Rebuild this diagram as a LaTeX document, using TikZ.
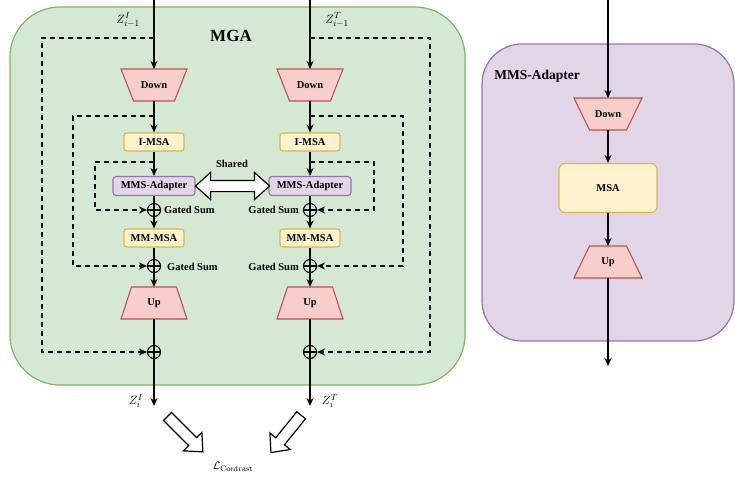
\documentclass[tikz,border=0pt]{standalone}
\usepackage[no-math]{fontspec}
\setmainfont{Liberation Serif}
\usetikzlibrary{shapes.geometric,shapes.arrows,arrows.meta}
\definecolor{greenF}{HTML}{D5E8D4}
\definecolor{greenS}{HTML}{82B366}
\definecolor{purpF}{HTML}{E1D5E7}
\definecolor{purpS}{HTML}{9673A6}
\definecolor{redF}{HTML}{F8CECC}
\definecolor{redS}{HTML}{B85450}
\definecolor{yelF}{HTML}{FFF2CC}
\definecolor{yelS}{HTML}{D6B656}
% name, x, y, top half width, bottom half width, text
\newcommand{\trapnode}[6]{%
  \filldraw[trapfill] (#2-#4,#3-16) -- (#2+#4,#3-16) -- (#2+#5,#3+16) -- (#2-#5,#3+16) -- cycle;
  \node[lbl, rectangle, minimum height=32pt, minimum width=30pt, inner sep=0pt, outer sep=0pt] (#1) at (#2,#3) {#6};}
\begin{document}
\begin{tikzpicture}[x=1pt,y=-1pt,
  lbl/.style={font=\bfseries\fontsize{10.5}{12}\selectfont, inner sep=1pt},
  mlbl/.style={font=\fontsize{12.5}{14}\selectfont, inner sep=1pt},
  trapfill/.style={draw=redS, fill=redF, line width=1.1pt, line join=miter},
  ybox/.style={rectangle, rounded corners=3pt, draw=yelS, fill=yelF, line width=1.1pt,
    minimum width=60pt, minimum height=18pt, inner sep=0pt, lbl},
  pbox/.style={rectangle, rounded corners=3pt, draw=purpS, fill=purpF, line width=1.1pt,
    minimum width=82pt, minimum height=19pt, inner sep=0pt, lbl},
  osum/.style={circle, draw, line width=1.1pt, minimum size=13pt, inner sep=0pt,
    path picture={\draw[line width=1.1pt] (path picture bounding box.north)--(path picture bounding box.south)
      (path picture bounding box.west)--(path picture bounding box.east);}},
  conn/.style={line width=1.3pt},
  arr/.style={conn, -{Stealth[length=8pt,width=7pt]}},
  dsh/.style={arr, dash pattern=on 5pt off 4pt},
  hollow/.style={single arrow, draw, fill=white, line width=1.2pt, inner sep=5pt,
    single arrow head extend=7.5pt, single arrow tip angle=84},
]
\useasboundingbox (0,0) rectangle (735,479);
% panels
\filldraw[fill=greenF, draw=greenS, line width=1.2pt, rounded corners=50pt] (10,7) rectangle (465,385);
\filldraw[fill=purpF, draw=purpS, line width=1.2pt, rounded corners=40pt] (482,44) rectangle (734,341);
\node[font=\bfseries\fontsize{17}{19}\selectfont] (mga) at (231,36) {MGA};
\node[font=\bfseries\fontsize{13.5}{15}\selectfont] (mmstitle) at (537,76) {MMS-Adapter};

% ---------- left column ----------
\coordinate (lin) at (154,0);
\coordinate (lb1) at (154,38);
\coordinate (lb2) at (154,116);
\coordinate (lb3) at (154,162);
\coordinate (lout) at (154,406);
\node[mlbl] (zl) at (128,20) {$Z^I_{i-1}$};
\trapnode{ld}{154}{85}{33}{20.5}{Down}
\node[ybox] (li) at (154,142) {I-MSA};
\node[pbox] (la) at (154,186) {MMS-Adapter};
\node[osum] (lc1) at (154,210) {};
\node[lbl, anchor=west] (lg1) at (163,210) {Gated Sum};
\node[ybox] (lm) at (154,238) {MM-MSA};
\node[osum] (lc2) at (154,266) {};
\node[lbl, anchor=west] (lg2) at (166,267) {Gated Sum};
\trapnode{lu}{154}{303}{22.5}{33}{Up}
\node[osum] (lc3) at (154,352) {};
\node[mlbl] (zli) at (136,401) {$Z^I_i$};

\draw[arr] (lin) -- (ld);
\draw[arr] (ld) -- (li);
\draw[arr] (li) -- (la);
\draw[conn] (la) -- (lc1);
\draw[arr] (lc1) -- (lm);
\draw[conn] (lm) -- (lc2);
\draw[arr] (lc2) -- (lu);
\draw[conn] (lu) -- (lc3);
\draw[arr] (lc3) -- (lout);
\draw[dsh] (lb1) -- ++(-112,0) |- (lc3);
\draw[dsh] (lb2) -- ++(-81,0) |- (lc2);
\draw[dsh] (lb3) -- ++(-59,0) |- (lc1);

% ---------- right column ----------
\coordinate (rin) at (310,0);
\coordinate (rb1) at (310,38);
\coordinate (rb2) at (310,116);
\coordinate (rb3) at (310,162);
\coordinate (rout) at (310,406);
\node[mlbl] (zr) at (337,20) {$Z^T_{i-1}$};
\trapnode{rd}{310}{85}{33}{20.5}{Down}
\node[ybox] (ri) at (310,142) {I-MSA};
\node[pbox] (ra) at (310,186) {MMS-Adapter};
\node[osum] (rc1) at (310,210) {};
\node[lbl, anchor=east] (rg1) at (300,210) {Gated Sum};
\node[ybox] (rm) at (310,238) {MM-MSA};
\node[osum] (rc2) at (310,266) {};
\node[lbl, anchor=east] (rg2) at (300,267) {Gated Sum};
\trapnode{ru}{310}{303}{22.5}{33}{Up}
\node[osum] (rc3) at (310,352) {};
\node[mlbl] (zri) at (330,401) {$Z^T_i$};

\draw[arr] (rin) -- (rd);
\draw[arr] (rd) -- (ri);
\draw[arr] (ri) -- (ra);
\draw[conn] (ra) -- (rc1);
\draw[arr] (rc1) -- (rm);
\draw[conn] (rm) -- (rc2);
\draw[arr] (rc2) -- (ru);
\draw[conn] (ru) -- (rc3);
\draw[arr] (rc3) -- (rout);
\draw[dsh] (rb1) -- ++(120,0) |- (rc3);
\draw[dsh] (rb2) -- ++(93,0) |- (rc2);
\draw[dsh] (rb3) -- ++(64,0) |- (rc1);

% shared
\node[double arrow, draw, fill=white, line width=1.2pt, inner sep=5pt,
  double arrow head extend=8pt, double arrow tip angle=84, minimum height=74pt] (sh) at (232.5,186) {};
\node[lbl] (shl) at (232,164) {Shared};

% contrast
\node[hollow, minimum height=50pt, rotate=-45] (hl) at (183,432) {};
\node[hollow, minimum height=48pt, rotate=-129] (hr) at (288,431.5) {};
\node[font=\fontsize{11}{13}\selectfont] (lc) at (233,467) {$\mathcal{L}_{\mathrm{Contrast}}$};

% ---------- MMS-Adapter detail ----------
\coordinate (pin) at (608,0);
\coordinate (pout) at (608,366);
\trapnode{pd}{608}{114}{34}{18.5}{Down}
\node[rectangle, rounded corners=6pt, draw=yelS, fill=yelF, line width=1.1pt,
  minimum width=98pt, minimum height=49pt, lbl] (pm) at (608,188) {MSA};
\trapnode{pu}{608}{262}{18.5}{34}{Up}
\draw[arr] (pin) -- (pd);
\draw[arr] (pd) -- (pm);
\draw[arr] (pm) -- (pu);
\draw[arr] (pu) -- (pout);
\end{tikzpicture}
\end{document}
